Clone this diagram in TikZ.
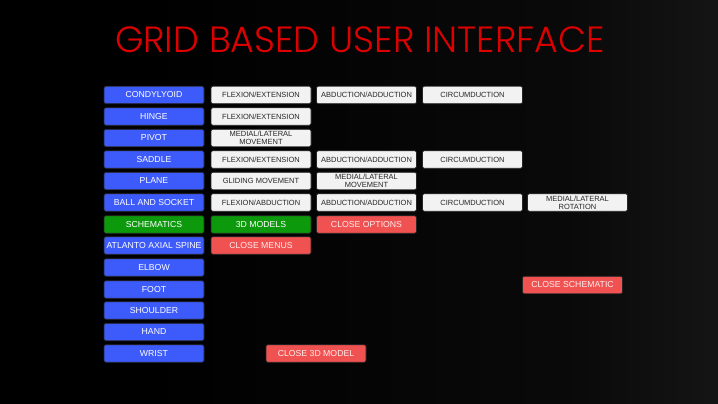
\documentclass[tikz,border=0pt]{standalone}
\usepackage{fontspec}
\setmainfont{Liberation Sans}
\newfontfamily\titlefont{Poppins}[UprightFont={* Light}]
\definecolor{bblue}{HTML}{3D5AFA}
\definecolor{bgreen}{HTML}{0C990C}
\definecolor{bred}{HTML}{F05252}
\definecolor{bwhite}{HTML}{F2F2F2}
\definecolor{ttl}{HTML}{DD0000}
\definecolor{bgright}{HTML}{303030}
\pgfdeclarehorizontalshading{bgshade}{100bp}{color(0bp)=(black); color(35bp)=(black); color(65bp)=(black!80!bgright); color(100bp)=(bgright)}
\tikzset{
  btn/.style={draw=black!85, line width=0.7pt, rounded corners=2pt, minimum width=100pt, minimum height=17.5pt, inner sep=0pt, align=center},
  bluebtn/.style={btn, fill=bblue, text=white, font=\fontsize{8.7}{10}\selectfont},
  greenbtn/.style={btn, fill=bgreen, text=white, font=\fontsize{8.7}{10}\selectfont},
  redbtn/.style={btn, fill=bred, text=white!92!red, font=\fontsize{8.7}{10}\selectfont},
  whitebtn/.style={btn, fill=bwhite, text=black!85, font=\fontsize{7.5}{8.3}\selectfont},
}
\begin{document}
\begin{tikzpicture}[x=1pt,y=-1pt]
\shade[shading=bgshade] (0,0) rectangle (718,404);
\useasboundingbox (0,0) rectangle (718,404);
\node[text=ttl, font=\titlefont\fontsize{36.5}{40}\selectfont, anchor=base] (title) at (360,53) {GRID BASED USER INTERFACE};
% column 1
\node[bluebtn] (cond) at (154,95) {CONDYLYOID};
\node[bluebtn] (hinge) at (154,116.5) {HINGE};
\node[bluebtn] (pivot) at (154,138) {PIVOT};
\node[bluebtn] (saddle) at (154,159.5) {SADDLE};
\node[bluebtn] (plane) at (154,181) {PLANE};
\node[bluebtn] (ball) at (154,202.5) {BALL AND SOCKET};
\node[greenbtn] (schem) at (154,224.5) {SCHEMATICS};
\node[bluebtn] (atlanto) at (154,245.5) {ATLANTO AXIAL SPINE};
\node[bluebtn] (elbow) at (154,267.5) {ELBOW};
\node[bluebtn] (foot) at (154,289.5) {FOOT};
\node[bluebtn] (shoulder) at (154,310.5) {SHOULDER};
\node[bluebtn] (hand) at (154,332) {HAND};
\node[bluebtn] (wrist) at (154,353.5) {WRIST};
% column 2
\node[whitebtn] (c2a) at (261,95) {FLEXION/EXTENSION};
\node[whitebtn] (c2b) at (261,116.5) {FLEXION/EXTENSION};
\node[whitebtn] (c2c) at (261,138) {MEDIAL/LATERAL\\MOVEMENT};
\node[whitebtn] (c2d) at (261,159.5) {FLEXION/EXTENSION};
\node[whitebtn] (c2e) at (261,181) {GLIDING MOVEMENT};
\node[whitebtn] (c2f) at (261,202.5) {FLEXION/ABDUCTION};
\node[greenbtn] (models) at (261,224.5) {3D MODELS};
\node[redbtn] (closemenus) at (261,245.5) {CLOSE MENUS};
% column 3
\node[whitebtn] (c3a) at (366.5,95) {ABDUCTION/ADDUCTION};
\node[whitebtn] (c3d) at (366.5,159.5) {ABDUCTION/ADDUCTION};
\node[whitebtn] (c3e) at (366.5,181) {MEDIAL/LATERAL\\MOVEMENT};
\node[whitebtn] (c3f) at (366.5,202.5) {ABDUCTION/ADDUCTION};
\node[redbtn] (closeopt) at (366.5,224.5) {CLOSE OPTIONS};
% column 4
\node[whitebtn] (c4a) at (472.5,95) {CIRCUMDUCTION};
\node[whitebtn] (c4d) at (472.5,159.5) {CIRCUMDUCTION};
\node[whitebtn] (c4f) at (472.5,202.5) {CIRCUMDUCTION};
% column 5
\node[whitebtn] (c5f) at (577.5,202.5) {MEDIAL/LATERAL\\ROTATION};
% others
\node[redbtn] (closeschem) at (572.5,285) {CLOSE SCHEMATIC};
\node[redbtn] (close3d) at (316,353.5) {CLOSE 3D MODEL};
\end{tikzpicture}
\end{document}
